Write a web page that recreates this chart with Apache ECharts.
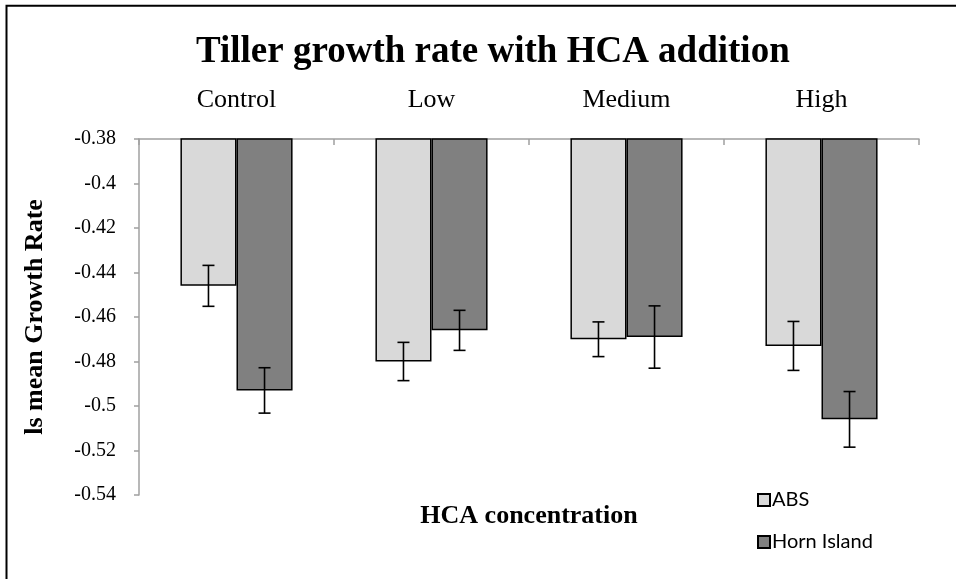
<!DOCTYPE html>
<html>
<head>
<meta charset="utf-8">
<script src="https://cdn.jsdelivr.net/npm/echarts@6/dist/echarts.min.js"></script>
<style>
html,body{margin:0;padding:0;background:#fff;}
#chart{width:956px;height:579px;}
</style>
</head>
<body>
<div id="chart"></div>
<script>
var categories = ['Control', 'Low', 'Medium', 'High'];
var seriesNames = ['ABS', 'Horn Island'];
var absValues = [-0.446, -0.480, -0.470, -0.473];
var hornValues = [-0.493, -0.466, -0.469, -0.506];
var absErrors = [0.0092, 0.0086, 0.0078, 0.0110];
var hornErrors = [0.0102, 0.0090, 0.0140, 0.0125];
var yTickMin = -0.54, yTickMax = -0.38, yTickStep = 0.02;

var serif = 'Liberation Serif';
var catGap = 0.425;

function errData(vals, errs) {
  return vals.map(function (v, i) { return [i, v - errs[i], v + errs[i]]; });
}

function errRenderer(side) {
  return function (params, api) {
    var idx = api.value(0);
    var lo = api.coord([idx, api.value(1)]);
    var hi = api.coord([idx, api.value(2)]);
    var band = api.size([1, 0])[0];
    var bw = band * (1 - catGap) / 2;
    var x = lo[0] + side * bw / 2;
    var cap = 6;
    var st = { stroke: '#000', lineWidth: 1.6, fill: null };
    return {
      type: 'group',
      children: [
        { type: 'line', shape: { x1: x, y1: lo[1], x2: x, y2: hi[1] }, style: st },
        { type: 'line', shape: { x1: x - cap, y1: lo[1], x2: x + cap, y2: lo[1] }, style: st },
        { type: 'line', shape: { x1: x - cap, y1: hi[1], x2: x + cap, y2: hi[1] }, style: st }
      ]
    };
  };
}

var chart = echarts.init(document.getElementById('chart'), null, { renderer: 'canvas' });
chart.setOption({
  backgroundColor: '#fff',
  animation: false,
  title: {
    text: 'Tiller growth rate with HCA addition',
    left: 191,
    top: 29,
    textStyle: { fontFamily: serif, fontWeight: 'bold', fontSize: 37, color: '#000' }
  },
  graphic: [
    { type: 'rect', shape: { x: 6.5, y: 5.7, width: 1000, height: 1000 },
      style: { fill: null, stroke: '#000', lineWidth: 2 }, silent: true },
    { type: 'text', x: 529, y: 516,
      style: { text: 'HCA concentration', font: 'bold 26px "Liberation Serif"', fill: '#000',
        textAlign: 'center', textVerticalAlign: 'middle' } }
  ],
  legend: {
    orient: 'vertical',
    left: 752,
    top: 485,
    itemGap: 22,
    itemWidth: 12,
    itemHeight: 12,
    icon: 'rect',
    data: seriesNames,
    textStyle: { fontFamily: 'Lato', fontSize: 20, color: '#000', lineHeight: 20, padding: [0, 0, 0, -3] }
  },
  grid: { left: 139, right: 37, top: 139, bottom: 84, containLabel: false },
  xAxis: {
    type: 'category',
    position: 'top',
    data: categories,
    axisLine: { lineStyle: { color: '#a0a0a0', width: 1.5 } },
    axisTick: { show: true, inside: true, length: 6, lineStyle: { color: '#a0a0a0', width: 1.5 } },
    axisLabel: { margin: 26, fontFamily: serif, fontSize: 26, color: '#000' },
    splitLine: { show: false }
  },
  yAxis: {
    type: 'value',
    min: yTickMin,
    max: yTickMax,
    interval: yTickStep,
    name: 'ls mean Growth Rate',
    nameLocation: 'middle',
    nameGap: 91,
    nameTextStyle: { fontFamily: serif, fontWeight: 'bold', fontSize: 26, color: '#000' },
    axisLine: { show: true, lineStyle: { color: '#a0a0a0', width: 1.5 } },
    axisTick: { show: true, length: 5, lineStyle: { color: '#a0a0a0', width: 1.5 } },
    axisLabel: { margin: 23, fontFamily: serif, fontSize: 20, color: '#000' },
    splitLine: { show: false }
  },
  series: [
    { name: seriesNames[0], type: 'bar', data: absValues, clip: true,
      barGap: '0%', barCategoryGap: (catGap * 100) + '%',
      itemStyle: { color: '#d9d9d9', borderColor: '#000', borderWidth: 1.5 } },
    { name: seriesNames[1], type: 'bar', data: hornValues, clip: true,
      barGap: '0%', barCategoryGap: (catGap * 100) + '%',
      itemStyle: { color: '#808080', borderColor: '#000', borderWidth: 1.5 } },
    { type: 'custom', name: 'absErr', data: errData(absValues, absErrors),
      renderItem: errRenderer(-1), encode: { x: 0, y: [1, 2] }, z: 10, silent: true },
    { type: 'custom', name: 'hornErr', data: errData(hornValues, hornErrors),
      renderItem: errRenderer(1), encode: { x: 0, y: [1, 2] }, z: 10, silent: true }
  ]
});
</script>
</body>
</html>
